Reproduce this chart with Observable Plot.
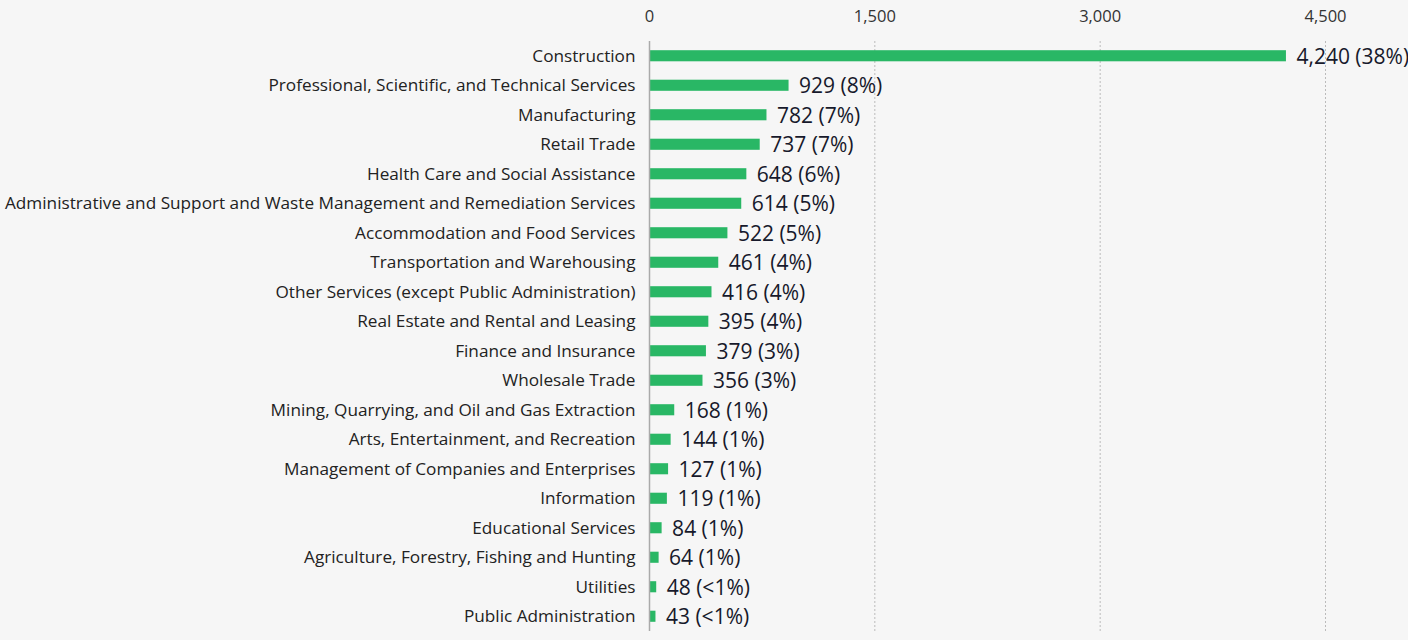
<!DOCTYPE html>
<html><head><meta charset="utf-8">
<script src="https://cdn.jsdelivr.net/npm/d3@7"></script>
<script src="https://cdn.jsdelivr.net/npm/@observablehq/plot@0.6"></script>
<style>
html,body{margin:0;padding:0;background:#f6f6f6;}
svg{display:block;}
</style></head>
<body><div id="chart"></div>
<script>
const categories = ["Construction","Professional, Scientific, and Technical Services","Manufacturing","Retail Trade","Health Care and Social Assistance","Administrative and Support and Waste Management and Remediation Services","Accommodation and Food Services","Transportation and Warehousing","Other Services (except Public Administration)","Real Estate and Rental and Leasing","Finance and Insurance","Wholesale Trade","Mining, Quarrying, and Oil and Gas Extraction","Arts, Entertainment, and Recreation","Management of Companies and Enterprises","Information","Educational Services","Agriculture, Forestry, Fishing and Hunting","Utilities","Public Administration"];
const values = [4240,929,782,737,648,614,522,461,416,395,379,356,168,144,127,119,84,64,48,43];
const shares = ["38%","8%","7%","7%","6%","5%","5%","4%","4%","4%","3%","3%","1%","1%","1%","1%","1%","1%","<1%","<1%"];
const xTicks = [0,1500,3000,4500];

const data = categories.map((c,i)=>({category:c, value:values[i], label:`${d3.format(",")(values[i])} (${shares[i]})`}));

const chart = Plot.plot({
  width:1408, height:640,
  marginLeft:649, marginRight:83, marginTop:41, marginBottom:9,
  style:{background:"#f6f6f6", fontFamily:"'Open Sans', sans-serif", color:"#222"},
  x:{domain:[0,4500], ticks:xTicks, label:null},
  y:{domain:categories, padding:0, round:false, label:null},
  marks:[
    Plot.gridX(xTicks.slice(1), {stroke:"#bbb", strokeOpacity:1, strokeDasharray:"2,2"}),
    Plot.axisX({anchor:"top", ticks:xTicks, tickSize:0, tickPadding:20, tickFormat:d3.format(","), fontSize:16.5, fill:"#333", label:null}),
    Plot.axisY({tickSize:0, tickPadding:14, fontSize:17.2, fill:"#222", label:null}),
    Plot.barX(data, {x:"value", y:"category", fill:"#29b765", insetTop:9.2, insetBottom:9.2}),
    Plot.ruleX([0], {stroke:"#aaa", strokeWidth:1.5}),
    Plot.text(data, {x:"value", y:"category", text:"label", textAnchor:"start", dx:10, dy:1, fontSize:21, fill:"#17192b"})
  ]
});
document.getElementById("chart").appendChild(chart);
</script></body></html>
